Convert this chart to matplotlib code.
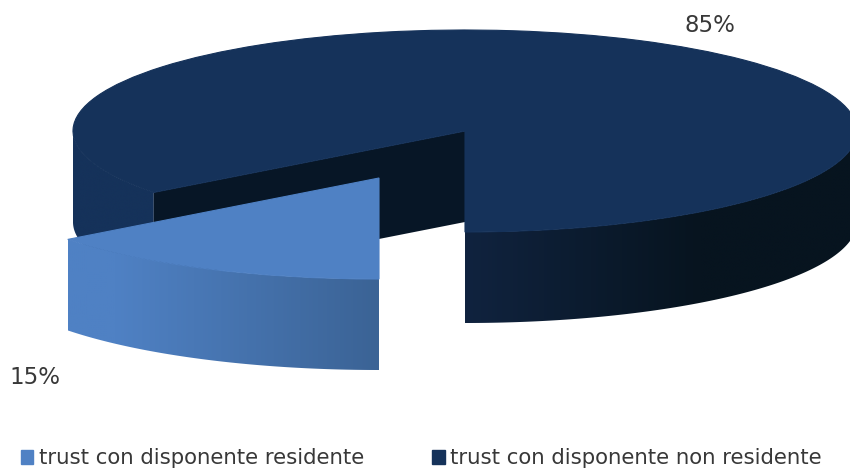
import numpy as np
import matplotlib
matplotlib.use("Agg")
import matplotlib.pyplot as plt
from matplotlib.colors import LinearSegmentedColormap
from matplotlib.patches import Patch, Polygon

# data
categories = ["trust con disponente non residente", "trust con disponente residente"]
values = [85.4, 14.6]
value_labels = ["85%", "15%"]

# style
TOP_BIG, TOP_SMALL = "#15325a", "#4f81c4"
WALL_BIG_A, WALL_BIG_B = "#10233f", "#07141f"
WALL_SMALL_B = "#3b6395"
CUT = "#071626"
TXT = "#383838"
W, H = 850, 468
RX, RY = 392, 101
DEPTH = 91
K = RY / RX

fig = plt.figure(figsize=(W / 100, H / 100), dpi=100)
ax = fig.add_axes([0, 0, 1, 1])
cy = lambda py: (H - py) / K

wedges, _ = ax.pie(values, startangle=-90, colors=[TOP_BIG, TOP_SMALL],
                   radius=RX, center=(465, cy(131)))
big, small = wedges
big.set(edgecolor=TOP_BIG, linewidth=0.8)
small.set(edgecolor=TOP_SMALL, linewidth=0.8)
small.set_center((379, cy(178)))   # pulled-out slice
ax.set_aspect("auto")
ax.axis("off")
depth = DEPTH / K


def wall(w, a, b, stops, z):
    """Rim of slice w between angles a and b, shaded left to right."""
    th = np.radians(np.linspace(a, b, 181))
    xs = w.center[0] + w.r * np.cos(th)
    ys = w.center[1] + w.r * np.sin(th)
    verts = np.r_[np.c_[xs, ys], np.c_[xs[::-1], ys[::-1] - depth]]
    clip = Polygon(verts, closed=True, transform=ax.transData, fc="none", ec="none")
    ax.add_patch(clip)
    cmap = LinearSegmentedColormap.from_list("w", stops)
    im = ax.imshow(np.linspace(0, 1, 256)[None, :], cmap=cmap, aspect="auto",
                   extent=(xs.min(), xs.max(), (ys - depth).min(), ys.max()),
                   zorder=z, interpolation="bilinear")
    im.set_clip_path(clip)


big.set_zorder(3)
small.set_zorder(6)
t = np.radians(big.theta2)
ex, ey = big.center[0] + big.r * np.cos(t), big.center[1] + big.r * np.sin(t)
ax.fill([big.center[0], ex, ex, big.center[0]],
        [big.center[1], ey, ey - depth, big.center[1] - depth],
        color=CUT, lw=0, zorder=2)
wall(big, 180, big.theta2, [TOP_BIG, TOP_BIG], 1)
wall(big, 270, 360, [(0, WALL_BIG_A), (0.6, WALL_BIG_B), (1, WALL_BIG_B)], 1)
wall(small, small.theta1, small.theta2, [(0, TOP_SMALL), (0.15, TOP_SMALL), (1, WALL_SMALL_B)], 5)
ax.set_xlim(0, W)
ax.set_ylim(0, H / K)

ax.text(710, cy(25), value_labels[0], ha="center", va="center", fontsize=16.5, color=TXT)
ax.text(35, cy(377), value_labels[1], ha="center", va="center", fontsize=16.5, color=TXT)

handles = [Patch(color=TOP_SMALL), Patch(color=TOP_BIG)]
ax.legend(handles, [categories[1], categories[0]], ncol=2, frameon=False,
          loc="lower left", bbox_to_anchor=(0.0168, -0.0145), fontsize=15.3,
          handlelength=0.6, handleheight=0.6, handletextpad=0.26,
          columnspacing=3.2, labelcolor=TXT, borderpad=0.3, borderaxespad=0)

fig.savefig("out.png", dpi=100, facecolor="white")
